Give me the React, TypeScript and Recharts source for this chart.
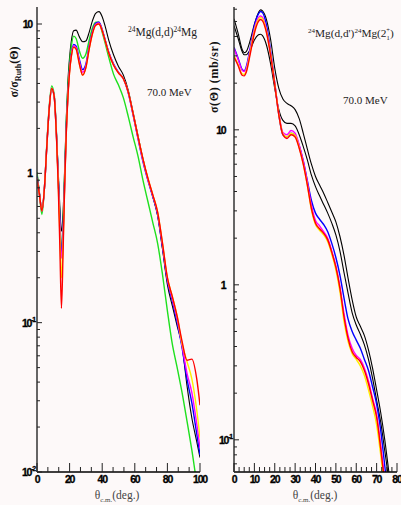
import React from "react";
import { LineChart, Line, XAxis, YAxis } from "recharts";

// ---- left panel: 24Mg(d,d)24Mg, ratio to Rutherford ----
const leftAngles = [
  0, 1.5, 3, 4.5, 6, 7.5, 9, 10.5, 12, 13, 14, 15, 16, 17, 18, 19, 20, 21, 22.5, 24, 26, 28, 30, 32, 34, 36,
  38, 40, 42, 44, 47, 50, 53, 56, 59, 62, 65, 68, 71, 74, 77, 80, 83, 86, 89, 92, 95, 98, 100,
];
const leftBlack = [
  1.0, 0.75, 0.56, 0.78, 1.5, 2.7, 3.7, 3.3, 1.8, 1.05, 0.6, 0.41, 0.55, 1.1, 2.4, 4.2, 6.0, 7.6, 9.0, 9.1, 8.2,
  7.6, 7.7, 8.8, 10.5, 11.8, 12.1, 11.2, 9.5, 7.8, 6.2, 5.2, 4.55, 3.6, 2.55, 1.78, 1.25, 0.92, 0.7, 0.52, 0.31,
  0.18, 0.13, 0.095, 0.07, 0.038, 0.023, 0.016, 0.0125,
];
const leftGreen = [
  1.02, 0.72, 0.53, 0.78, 1.55, 2.8, 3.85, 3.4, 1.8, 0.95, 0.5, 0.3, 0.45, 1.0, 2.2, 3.8, 5.5, 7.0, 8.3, 8.0, 6.6,
  5.9, 6.3, 7.8, 9.4, 10.3, 10.3, 8.8, 7.3, 6.0, 4.6, 3.9, 3.2, 2.4, 1.75, 1.3, 0.9, 0.65, 0.47, 0.34, 0.21, 0.12,
  0.072, 0.05, 0.034, 0.022, 0.014, 0.0085, 0.0065,
];
const leftBlue = [
  0.95, 0.73, 0.56, 0.78, 1.5, 2.7, 3.7, 3.3, 1.75, 0.95, 0.5, 0.29, 0.4, 0.9, 2.0, 3.4, 5.0, 6.2, 7.3, 7.1, 5.8,
  4.95, 5.4, 7.1, 8.9, 10.1, 10.3, 9.2, 7.7, 6.5, 5.4, 4.75, 4.3, 3.45, 2.45, 1.7, 1.2, 0.9, 0.7, 0.53, 0.32, 0.19,
  0.14, 0.1, 0.068, 0.042, 0.029, 0.018, 0.013,
];
const leftMagenta = [
  0.93, 0.72, 0.56, 0.78, 1.5, 2.7, 3.7, 3.3, 1.72, 0.92, 0.46, 0.27, 0.38, 0.88, 1.95, 3.35, 4.9, 6.1, 7.15, 6.95,
  5.6, 4.75, 5.25, 6.95, 8.75, 9.95, 10.15, 9.1, 7.65, 6.45, 5.35, 4.72, 4.3, 3.47, 2.47, 1.72, 1.22, 0.91, 0.71,
  0.54, 0.33, 0.195, 0.145, 0.105, 0.07, 0.046, 0.034, 0.021, 0.0145,
];
const leftYellow = [
  0.92, 0.72, 0.56, 0.78, 1.5, 2.7, 3.7, 3.3, 1.7, 0.88, 0.4, 0.2, 0.33, 0.86, 1.9, 3.3, 4.8, 6.0, 7.0, 6.8, 5.4,
  4.55, 5.1, 6.8, 8.6, 9.8, 10.0, 9.0, 7.6, 6.4, 5.3, 4.7, 4.3, 3.5, 2.5, 1.75, 1.25, 0.93, 0.72, 0.55, 0.34, 0.2,
  0.15, 0.11, 0.072, 0.055, 0.042, 0.026, 0.017,
];
const leftRed = [
  0.92, 0.72, 0.56, 0.78, 1.5, 2.7, 3.7, 3.3, 1.7, 0.85, 0.33, 0.125, 0.3, 0.85, 1.9, 3.3, 4.8, 6.0, 7.0, 6.8, 5.4,
  4.55, 5.1, 6.8, 8.6, 9.8, 10.0, 9.0, 7.6, 6.4, 5.3, 4.7, 4.3, 3.5, 2.5, 1.75, 1.25, 0.93, 0.72, 0.55, 0.34, 0.2,
  0.15, 0.11, 0.075, 0.056, 0.057, 0.042, 0.028,
];

// ---- right panel: 24Mg(d,d')24Mg(2+), mb/sr ----
const rightAngles = [
  0, 2, 4, 5, 6, 8, 10, 12, 13, 14, 16, 18, 20, 22, 24, 26, 28, 30, 32, 34, 36, 38, 40, 42, 44, 46, 48, 50, 52,
  54, 56, 58, 60, 62, 64, 66, 68, 70, 72, 74, 76, 78, 80,
];
const rightBlackA = [
  52, 42, 33, 31.5, 32, 38, 48, 57, 59.4, 58.5, 51, 38, 25, 18.5, 15.8, 14.8, 14.3, 13.5, 11.8, 9.5, 7.5, 6.0, 5.0,
  4.4, 3.9, 3.4, 2.95, 2.55, 2.05, 1.55, 1.1, 0.8, 0.62, 0.54, 0.47, 0.38, 0.29, 0.21, 0.15, 0.1, 0.062, 0.038,
  0.023,
];
const rightBlackB = [
  47, 39, 32, 30.5, 30.5, 33, 38, 41, 41.4, 40.5, 35, 26.5, 18.5, 13.5, 11.5, 11.0, 11.0, 10.6, 9.3, 7.8, 6.4, 5.1,
  4.3, 3.75, 3.3, 2.9, 2.5, 2.1, 1.65, 1.2, 0.88, 0.66, 0.55, 0.48, 0.41, 0.33, 0.25, 0.18, 0.13, 0.085, 0.055,
  0.034, 0.021,
];
const rightBlue = [
  34, 29, 24.5, 24, 25.5, 34, 47, 56, 58, 57, 47, 32, 20, 12.5, 9.3, 9.0, 9.5, 9.2, 7.9, 6.3, 4.7, 3.5, 2.9, 2.65,
  2.45, 2.2, 1.85, 1.5, 1.15, 0.82, 0.6, 0.5, 0.44, 0.39, 0.33, 0.28, 0.22, 0.17, 0.115, 0.068, 0.04, 0.024, 0.014,
];
const rightMagenta = [
  33.5, 28.5, 24.2, 23.8, 25, 33, 45, 53, 54.3, 53.2, 44, 31, 20, 12.8, 9.6, 9.3, 9.9, 9.5, 8.0, 6.3, 4.6, 3.25,
  2.6, 2.4, 2.2, 2.0, 1.65, 1.32, 0.97, 0.65, 0.47, 0.39, 0.35, 0.33, 0.29, 0.24, 0.185, 0.145, 0.092, 0.055,
  0.032, 0.019, 0.012,
];
const rightYellow = [
  30, 26.5, 23, 22.8, 24, 32, 43.5, 51.5, 53, 52, 43, 30.5, 19.8, 12.6, 9.4, 9.0, 9.5, 9.2, 7.7, 6.0, 4.4, 3.05,
  2.45, 2.25, 2.1, 1.9, 1.58, 1.25, 0.9, 0.58, 0.43, 0.36, 0.33, 0.3, 0.26, 0.21, 0.165, 0.125, 0.08, 0.048, 0.028,
  0.017, 0.01,
];
const rightRed = [
  29.5, 26, 22.5, 22.3, 23.5, 31, 42, 50, 51.5, 50.5, 42, 30, 19.5, 12.5, 9.3, 8.8, 9.3, 9.0, 7.6, 6.0, 4.4, 3.1,
  2.5, 2.3, 2.15, 1.95, 1.62, 1.3, 0.95, 0.62, 0.45, 0.37, 0.34, 0.32, 0.28, 0.23, 0.18, 0.14, 0.088, 0.052, 0.03,
  0.018, 0.011,
];

const colors: Record<string, string> = {
  black: "#000000",
  blackB: "#000000",
  green: "#1ee01e",
  blue: "#0000ff",
  magenta: "#ff00ff",
  yellow: "#ffee00",
  red: "#ff0000",
};

const toRows = (angles: number[], series: Record<string, number[]>) =>
  angles.map((a, i) => {
    const row: Record<string, number> = { angle: a };
    Object.keys(series).forEach((k) => (row[k] = series[k][i]));
    return row;
  });

const leftData = toRows(leftAngles, {
  black: leftBlack,
  green: leftGreen,
  blue: leftBlue,
  magenta: leftMagenta,
  yellow: leftYellow,
  red: leftRed,
});
const rightData = toRows(rightAngles, {
  black: rightBlackA,
  blackB: rightBlackB,
  blue: rightBlue,
  magenta: rightMagenta,
  yellow: rightYellow,
  red: rightRed,
});

const logTicks = (lo: number, hi: number) => {
  const out: number[] = [];
  for (let e = Math.floor(Math.log10(lo)); e <= Math.ceil(Math.log10(hi)); e++) {
    for (let m = 1; m <= 9; m++) {
      const v = m * Math.pow(10, e);
      if (v >= lo * 0.999 && v <= hi * 1.001) out.push(v);
    }
  }
  return out;
};

const stepTicks = (max: number, step: number) => {
  const out: number[] = [];
  for (let i = 0; i * step <= max + 1e-6; i++) out.push(i * step);
  return out;
};

const tickFont = {
  fontFamily: "'Liberation Sans', Arial, sans-serif",
  fontWeight: 700,
  fontSize: 10.5,
  letterSpacing: -1.2,
};

const XTick = (props: any) => {
  const { x, y, payload, majorEvery } = props;
  const v = payload.value;
  const major = Math.abs(v / majorEvery - Math.round(v / majorEvery)) < 1e-6;
  return (
    <g>
      <line x1={x} x2={x} y1={y} y2={y - (major ? 9 : 5)} stroke="#222" strokeWidth={1} />
      {major && (
        <text x={x} y={y + 11} textAnchor="middle" fill="#000" stroke="#000" strokeWidth={0.3} {...tickFont}>
          {Math.round(v)}
        </text>
      )}
    </g>
  );
};

const YTick = (props: any) => {
  const { x, y, payload, gap } = props;
  const e = Math.log10(payload.value);
  const major = Math.abs(e - Math.round(e)) < 1e-6;
  const p = Math.round(e);
  return (
    <g>
      <line x1={x} x2={x + (major ? 5 : 3)} y1={y} y2={y} stroke="#222" strokeWidth={1} />
      {major &&
        (p >= 0 ? (
          <text x={x - gap} y={y + 4} textAnchor="end" fill="#000" stroke="#000" strokeWidth={0.3} {...tickFont}>
            {p === 0 ? "1" : "10"}
          </text>
        ) : (
          <text x={x - 2} y={y + 4} textAnchor="end" fill="#000" stroke="#000" strokeWidth={0.3} {...tickFont}>
            10
            <tspan dy={-5} fontSize={7}>
              {p}
            </tspan>
          </text>
        ))}
    </g>
  );
};

const leftOrder = ["black", "green", "blue", "magenta", "yellow", "red"];
const rightOrder = ["black", "blackB", "blue", "magenta", "yellow", "red"];

const serif = "'Liberation Serif', 'Times New Roman', serif";

export default function App() {
  return (
    <div
      style={{
        position: "absolute",
        left: 0,
        top: 0,
        width: 401,
        height: 505,
        background: "#fdf9f9",
        overflow: "hidden",
      }}
    >
      <div style={{ position: "absolute", left: 0, top: 0 }}>
        <LineChart width={212} height={505} data={leftData} margin={{ top: 7, right: 12, left: 0, bottom: 0 }}>
          <XAxis
            dataKey="angle"
            type="number"
            domain={[0, 100]}
            ticks={stepTicks(100, 20 / 3)}
            interval={0}
            height={33}
            tickSize={0}
            tickMargin={0}
            tickLine={false}
            axisLine={{ stroke: "#000", strokeWidth: 1.5 }}
            tick={<XTick majorEvery={20} />}
            allowDataOverflow
          />
          <XAxis xAxisId="top" orientation="top" type="number" domain={[0, 100]} height={0} tick={false} tickLine={false} axisLine={{ stroke: "#000" }} />
          <YAxis
            type="number"
            scale="log"
            domain={[0.01, 13]}
            ticks={logTicks(0.01, 13)}
            interval={0}
            width={37}
            tickSize={0}
            tickMargin={0}
            tickLine={false}
            axisLine={{ stroke: "#333", strokeWidth: 1.5 }}
            tick={<YTick gap={5} />}
            allowDataOverflow
          />
          <YAxis yAxisId="right" orientation="right" type="number" domain={[0, 1]} width={0} tick={false} tickLine={false} axisLine={{ stroke: "#000" }} />
          {leftOrder.map((k) => (
            <Line
              key={k}
              dataKey={k}
              type="monotone"
              stroke={colors[k]}
              strokeWidth={k === "black" ? 1.1 : 1.4}
              dot={false}
              isAnimationActive={false}
            />
          ))}
        </LineChart>
      </div>

      <div style={{ position: "absolute", left: 200, top: 0 }}>
        <LineChart width={201} height={505} data={rightData} margin={{ top: 7, right: 4, left: 0, bottom: 0 }}>
          <XAxis
            dataKey="angle"
            type="number"
            domain={[0, 80]}
            ticks={stepTicks(80, 2.5)}
            interval={0}
            height={33}
            tickSize={0}
            tickMargin={0}
            tickLine={false}
            axisLine={{ stroke: "#000", strokeWidth: 1.5 }}
            tick={<XTick majorEvery={10} />}
            allowDataOverflow
          />
          <XAxis xAxisId="top" orientation="top" type="number" domain={[0, 80]} height={0} tick={false} tickLine={false} axisLine={{ stroke: "#000" }} />
          <YAxis
            type="number"
            scale="log"
            domain={[0.062, 62]}
            ticks={logTicks(0.062, 62)}
            interval={0}
            width={34}
            tickSize={0}
            tickMargin={0}
            tickLine={false}
            axisLine={{ stroke: "#333", strokeWidth: 1.5 }}
            tick={<YTick gap={8.5} />}
            allowDataOverflow
          />
          <YAxis yAxisId="right" orientation="right" type="number" domain={[0, 1]} width={0} tick={false} tickLine={false} axisLine={{ stroke: "#888", strokeWidth: 2 }} />
          {rightOrder.map((k) => (
            <Line
              key={k}
              dataKey={k}
              type="monotone"
              stroke={colors[k]}
              strokeWidth={k.startsWith("black") ? 1.1 : 1.4}
              dot={false}
              isAnimationActive={false}
            />
          ))}
        </LineChart>
      </div>

      <svg width={401} height={505} style={{ position: "absolute", left: 0, top: 0, pointerEvents: "none" }}>
        {/* axis titles */}
        <text transform="translate(18,72) rotate(-90)" textAnchor="middle" fontFamily={serif} fontWeight={700} fontSize={12} fill="#111">
          σ/σ
          <tspan fontSize={8} dy={3}>
            Ruth
          </tspan>
          <tspan dy={-3}>(Θ)</tspan>
        </text>
        <text transform="translate(218,77) rotate(-90)" textAnchor="middle" fontFamily={serif} fontWeight={700} fontSize={12} letterSpacing={0.6} fill="#111">
          σ(Θ) (mb/sr)
        </text>
        <text x={117} y={499} textAnchor="middle" fontFamily={serif} fontSize={11.5} fill="#444">
          θ
          <tspan fontSize={7} dy={3}>
            c.m.
          </tspan>
          <tspan dy={-3}>(deg.)</tspan>
        </text>
        <text x={315} y={499} textAnchor="middle" fontFamily={serif} fontSize={11.5} fill="#444">
          θ
          <tspan fontSize={7} dy={3}>
            c.m.
          </tspan>
          <tspan dy={-3}>(deg.)</tspan>
        </text>

        {/* panel annotations */}
        <text x={128} y={36} fontFamily={serif} fontSize={11.5} fill="#222">
          <tspan fontSize={7.5} dy={-4}>
            24
          </tspan>
          <tspan dy={4}>Mg(d,d)</tspan>
          <tspan fontSize={7.5} dy={-4}>
            24
          </tspan>
          <tspan dy={4}>Mg</tspan>
        </text>
        <text x={147} y={96} fontFamily={serif} fontSize={11} fill="#222">
          70.0 MeV
        </text>
        <text x={308} y={37} fontFamily={serif} fontSize={11.3} fill="#222">
          <tspan fontSize={7} dy={-4}>
            24
          </tspan>
          <tspan dy={4}>Mg(d,d')</tspan>
          <tspan fontSize={7} dy={-4}>
            24
          </tspan>
          <tspan dy={4}>Mg(2</tspan>
          <tspan fontSize={6.5} dy={3}>
            1
          </tspan>
          <tspan fontSize={6.5} dx={-3.5} dy={-8}>
            +
          </tspan>
          <tspan dy={5}>)</tspan>
        </text>
        <text x={343} y={104} fontFamily={serif} fontSize={11} fill="#222">
          70.0 MeV
        </text>
      </svg>
    </div>
  );
}
